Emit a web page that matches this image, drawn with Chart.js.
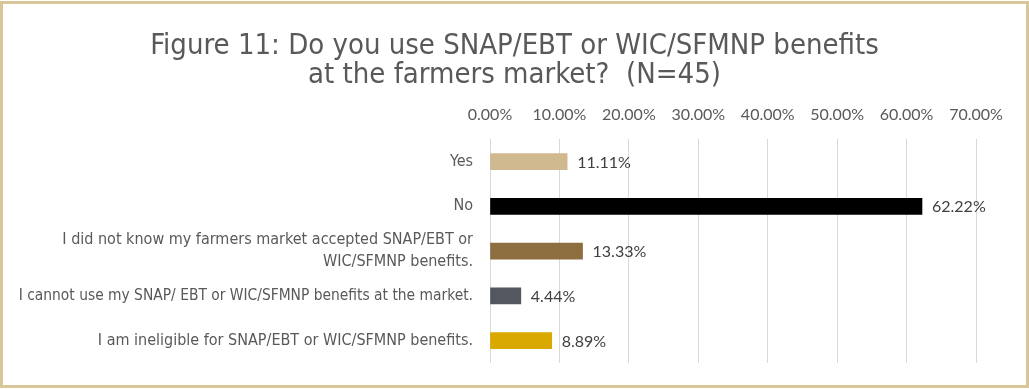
<!DOCTYPE html>
<html>
<head>
<meta charset="utf-8">
<script src="https://cdn.jsdelivr.net/npm/chart.js@4"></script>
<style>
  body { margin: 0; background: #fff; }
  #frame {
    position: absolute; left: 0; top: 1px;
    width: 1029px; height: 387px;
    box-sizing: border-box;
    border: 3px solid #D8C598;
    background: #fff;
  }
  #snap-chart { display: block; }
</style>
</head>
<body>
<div id="frame"><canvas id="snap-chart" width="1023" height="381"></canvas></div>
<script>
const answers = [
    "Yes",
    "No",
    ["I did not know my farmers market accepted SNAP/EBT or", "WIC/SFMNP benefits."],
    "I cannot use my SNAP/ EBT or WIC/SFMNP benefits at the market.",
    "I am ineligible for SNAP/EBT or WIC/SFMNP benefits."
];
const shares = [11.11, 62.22, 13.33, 4.44, 8.89];
const barColors = ["#D1B98F", "#000000", "#8D6E3E", "#53575F", "#DAA900"];
const titleLines = ["Figure 11: Do you use SNAP/EBT or WIC/SFMNP benefits", "at the farmers market?  (N=45)"];

const narrow = "'Liberation Sans Narrow', 'DejaVu Sans Condensed', sans-serif";
const body = "Lato, 'Open Sans', sans-serif";

// writes the percentage just past the end of each bar
const valueLabels = {
    id: 'valueLabels',
    afterDatasetsDraw(chart) {
        const ctx = chart.ctx;
        const meta = chart.getDatasetMeta(0);
        ctx.save();
        ctx.font = "16px " + body;
        ctx.fillStyle = "#404040";
        ctx.textAlign = "left";
        ctx.textBaseline = "middle";
        meta.data.forEach((bar, i) => {
            const v = chart.data.datasets[0].data[i];
            ctx.fillText(v.toFixed(2) + "%", bar.x + 10, bar.y + 1);
        });
        ctx.restore();
    }
};

const snapCanvas = document.querySelector("#snap-chart").getContext('2d');

let snapChart = new Chart(snapCanvas, {
    type: 'bar',
    data: {
        labels: answers,
        datasets: [
            {
                data: shares,
                backgroundColor: barColors,
                barThickness: 16
            }
        ]
    },
    plugins: [valueLabels],
    options: {
        indexAxis: 'y',
        responsive: false,
        animation: { duration: 0 },
        layout: {
            padding: { left: 0, right: 0, top: 0, bottom: 22 }
        },
        plugins: {
            legend: { display: false },
            tooltip: { enabled: false },
            title: {
                display: true,
                text: titleLines,
                color: "#595959",
                font: { family: narrow, size: 29, weight: 'normal', lineHeight: 1.0 },
                padding: { top: 28, bottom: 0 }
            }
        },
        scales: {
            x: {
                position: 'top',
                min: 0,
                max: 70,
                ticks: {
                    stepSize: 10,
                    color: "#595959",
                    font: { family: body, size: 16 },
                    padding: 15,
                    callback: (v) => v.toFixed(2) + "%"
                },
                grid: { color: "#D9D9D9", lineWidth: 1, drawTicks: false },
                border: { display: false }
            },
            y: {
                ticks: {
                    autoSkip: false,
                    color: "#595959",
                    // the longest answer is set a touch smaller so it fits
                    font: (c) => ({ family: narrow, size: c.index === 3 ? 15.4 : 16, lineHeight: 1.35 }),
                    padding: 17
                },
                grid: { display: false, drawTicks: false },
                border: { display: false },
                afterFit: (scale) => {
                    scale.width = 487;
                    scale.paddingTop = 0;
                    scale.paddingBottom = 0;
                }
            },
            // empty strip on the right so the labels after the bars have room
            yRight: {
                type: 'category',
                position: 'right',
                ticks: { display: false },
                grid: { display: false, drawTicks: false },
                border: { display: false },
                afterFit: (scale) => { scale.width = 50; }
            }
        }
    }
});
</script>
</body>
</html>
